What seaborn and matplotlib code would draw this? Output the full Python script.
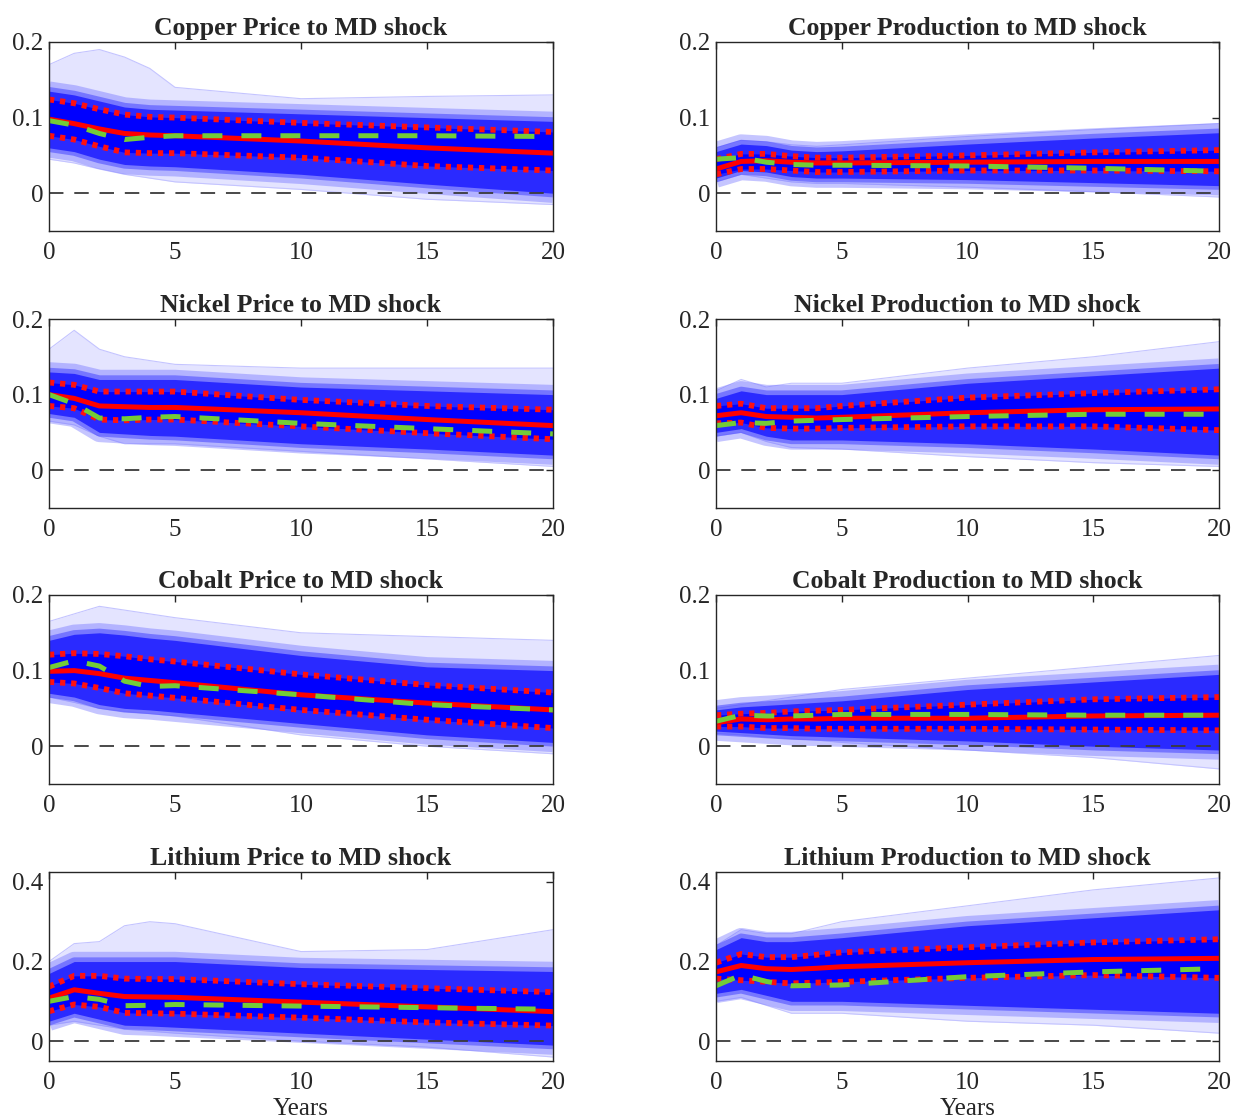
import matplotlib
matplotlib.use("Agg")
import matplotlib.pyplot as plt
import seaborn as sns
import pandas as pd

years = [0, 1, 2, 3, 4, 5, 10, 15, 20]

titles = [
    "Copper Price to MD shock", "Copper Production to MD shock",
    "Nickel Price to MD shock", "Nickel Production to MD shock",
    "Cobalt Price to MD shock", "Cobalt Production to MD shock",
    "Lithium Price to MD shock", "Lithium Production to MD shock",
]

# median response (red solid)
median = [
    [0.098, 0.092, 0.085, 0.079, 0.077, 0.076, 0.069, 0.060, 0.053],
    [0.032, 0.042, 0.043, 0.041, 0.040, 0.040, 0.041, 0.042, 0.042],
    [0.100, 0.095, 0.085, 0.084, 0.083, 0.083, 0.076, 0.067, 0.059],
    [0.072, 0.076, 0.071, 0.070, 0.069, 0.070, 0.076, 0.080, 0.081],
    [0.099, 0.100, 0.096, 0.090, 0.087, 0.084, 0.068, 0.057, 0.048],
    [0.031, 0.036, 0.035, 0.036, 0.036, 0.037, 0.037, 0.040, 0.041],
    [0.108, 0.129, 0.120, 0.112, 0.111, 0.110, 0.098, 0.086, 0.074],
    [0.174, 0.190, 0.182, 0.180, 0.183, 0.187, 0.197, 0.205, 0.208],
]

# upper credible band (red dotted)
upper = [
    [0.124, 0.119, 0.111, 0.104, 0.101, 0.100, 0.093, 0.087, 0.081],
    [0.045, 0.052, 0.052, 0.049, 0.047, 0.047, 0.050, 0.054, 0.057],
    [0.116, 0.113, 0.104, 0.104, 0.104, 0.104, 0.093, 0.085, 0.080],
    [0.085, 0.088, 0.082, 0.082, 0.082, 0.085, 0.096, 0.102, 0.107],
    [0.121, 0.123, 0.122, 0.119, 0.115, 0.112, 0.095, 0.081, 0.071],
    [0.041, 0.043, 0.044, 0.046, 0.047, 0.048, 0.055, 0.062, 0.065],
    [0.137, 0.164, 0.164, 0.157, 0.156, 0.156, 0.143, 0.133, 0.123],
    [0.197, 0.219, 0.211, 0.211, 0.217, 0.223, 0.236, 0.248, 0.256],
]

# lower credible band (red dotted)
lower = [
    [0.076, 0.071, 0.062, 0.054, 0.053, 0.053, 0.047, 0.036, 0.030],
    [0.025, 0.032, 0.032, 0.030, 0.028, 0.028, 0.030, 0.030, 0.029],
    [0.085, 0.082, 0.067, 0.066, 0.067, 0.067, 0.058, 0.049, 0.041],
    [0.062, 0.063, 0.056, 0.055, 0.055, 0.056, 0.058, 0.058, 0.053],
    [0.085, 0.083, 0.077, 0.070, 0.067, 0.064, 0.048, 0.035, 0.024],
    [0.026, 0.026, 0.024, 0.024, 0.023, 0.023, 0.023, 0.022, 0.021],
    [0.075, 0.092, 0.086, 0.071, 0.070, 0.069, 0.059, 0.047, 0.039],
    [0.157, 0.153, 0.149, 0.145, 0.147, 0.149, 0.159, 0.166, 0.159],
]

# point estimate (green dashed)
point = [
    [0.096, 0.090, 0.079, 0.071, 0.074, 0.076, 0.076, 0.076, 0.075],
    [0.045, 0.047, 0.041, 0.038, 0.037, 0.037, 0.036, 0.033, 0.029],
    [0.100, 0.088, 0.069, 0.068, 0.070, 0.071, 0.062, 0.055, 0.048],
    [0.059, 0.063, 0.062, 0.065, 0.066, 0.067, 0.071, 0.074, 0.074],
    [0.104, 0.113, 0.106, 0.086, 0.079, 0.080, 0.068, 0.055, 0.048],
    [0.033, 0.041, 0.040, 0.040, 0.041, 0.042, 0.042, 0.041, 0.041],
    [0.100, 0.112, 0.105, 0.089, 0.090, 0.092, 0.088, 0.084, 0.080],
    [0.139, 0.166, 0.150, 0.139, 0.140, 0.141, 0.162, 0.174, 0.182],
]

# dense part of the draws cloud
core_hi = [
    [0.135, 0.130, 0.122, 0.114, 0.111, 0.110, 0.105, 0.100, 0.095],
    [0.055, 0.065, 0.063, 0.057, 0.055, 0.056, 0.065, 0.073, 0.080],
    [0.130, 0.128, 0.120, 0.120, 0.120, 0.120, 0.110, 0.105, 0.100],
    [0.095, 0.105, 0.100, 0.100, 0.100, 0.100, 0.115, 0.125, 0.135],
    [0.140, 0.148, 0.150, 0.147, 0.143, 0.140, 0.120, 0.105, 0.100],
    [0.048, 0.052, 0.054, 0.056, 0.058, 0.060, 0.075, 0.085, 0.095],
    [0.170, 0.200, 0.200, 0.200, 0.200, 0.200, 0.185, 0.180, 0.175],
    [0.230, 0.260, 0.250, 0.250, 0.255, 0.260, 0.290, 0.310, 0.330],
]
core_lo = [
    [0.060, 0.055, 0.045, 0.038, 0.036, 0.035, 0.025, 0.012, 0.000],
    [0.020, 0.030, 0.028, 0.022, 0.020, 0.020, 0.018, 0.014, 0.010],
    [0.075, 0.070, 0.050, 0.048, 0.046, 0.045, 0.035, 0.028, 0.020],
    [0.050, 0.055, 0.045, 0.040, 0.040, 0.040, 0.035, 0.028, 0.020],
    [0.070, 0.065, 0.055, 0.050, 0.048, 0.045, 0.030, 0.015, 0.005],
    [0.020, 0.018, 0.016, 0.014, 0.013, 0.012, 0.007, 0.000, -0.005],
    [0.050, 0.070, 0.055, 0.040, 0.038, 0.035, 0.020, 0.005, -0.010],
    [0.120, 0.130, 0.115, 0.100, 0.100, 0.100, 0.090, 0.080, 0.070],
]

# outer envelope of the draws cloud
outer_hi = [
    [0.170, 0.185, 0.190, 0.180, 0.165, 0.140, 0.125, 0.128, 0.130],
    [0.060, 0.070, 0.068, 0.064, 0.062, 0.064, 0.075, 0.084, 0.092],
    [0.160, 0.185, 0.160, 0.150, 0.145, 0.140, 0.135, 0.135, 0.135],
    [0.105, 0.120, 0.110, 0.115, 0.115, 0.115, 0.135, 0.150, 0.170],
    [0.165, 0.175, 0.185, 0.180, 0.175, 0.170, 0.150, 0.145, 0.140],
    [0.050, 0.055, 0.060, 0.065, 0.070, 0.075, 0.090, 0.105, 0.120],
    [0.200, 0.245, 0.250, 0.290, 0.300, 0.295, 0.225, 0.230, 0.280],
    [0.240, 0.280, 0.270, 0.270, 0.285, 0.300, 0.340, 0.380, 0.410],
]
outer_lo = [
    [0.045, 0.040, 0.032, 0.025, 0.020, 0.015, 0.005, -0.008, -0.015],
    [0.015, 0.025, 0.020, 0.015, 0.013, 0.013, 0.008, 0.002, -0.005],
    [0.065, 0.060, 0.045, 0.035, 0.035, 0.035, 0.025, 0.015, 0.005],
    [0.045, 0.050, 0.038, 0.030, 0.029, 0.028, 0.018, 0.010, 0.005],
    [0.065, 0.058, 0.050, 0.046, 0.043, 0.040, 0.015, 0.000, -0.010],
    [0.017, 0.015, 0.012, 0.010, 0.008, 0.005, -0.005, -0.015, -0.030],
    [0.040, 0.050, 0.040, 0.030, 0.025, 0.020, 0.000, -0.015, -0.040],
    [0.100, 0.110, 0.090, 0.070, 0.070, 0.070, 0.050, 0.040, 0.020],
]

ylims = [(-0.05, 0.2)] * 6 + [(-0.05, 0.425)] * 2
yticks = [[0, 0.1, 0.2]] * 6 + [[0, 0.2, 0.4]] * 2
ytick_labels = [["0", "0.1", "0.2"]] * 6 + [["0", "0.2", "0.4"]] * 2
xticks = [0, 5, 10, 15, 20]

sns.set_theme(style="white")
plt.rcParams["font.family"] = ["Liberation Serif", "DejaVu Serif"]

fig = plt.figure(figsize=(12.35, 11.2), dpi=100)

col_left = [49 / 1235, 716 / 1235]
col_width = [504 / 1235, 503 / 1235]
row_bottom = [1 - 231 / 1120, 1 - 508 / 1120, 1 - 784 / 1120, 1 - 1061 / 1120]
row_height = 189 / 1120

LW = 3.6
for i, title in enumerate(titles):
    r, c = divmod(i, 2)
    ax = fig.add_axes([col_left[c], row_bottom[r], col_width[c], row_height])

    # cloud of draws: faint outer envelope, soft-edged dense core
    ax.fill_between(years, outer_lo[i], outer_hi[i], color="#e4e4ff", lw=0, zorder=1)
    for edge in (outer_hi[i], outer_lo[i]):
        ax.plot(years, edge, color="#c4c4ff", lw=0.8, zorder=1)
    for edge in (core_hi[i], core_lo[i]):
        ax.plot(years, edge, color="#5a5aff", lw=14, alpha=0.35, zorder=1.5,
                solid_capstyle="butt")
        ax.plot(years, edge, color="#3a3aff", lw=6, alpha=0.5, zorder=1.6,
                solid_capstyle="butt")
    ax.fill_between(years, core_lo[i], core_hi[i], color="#2a2aff", lw=0, zorder=2)
    ax.fill_between(years, lower[i], upper[i], color="#0000ff", lw=0, zorder=2)

    ax.axhline(0, color="#3a3a3a", lw=1.3, ls=(0, (8, 6)), zorder=3)

    df = pd.DataFrame({"year": years, "median": median[i], "upper": upper[i],
                       "lower": lower[i], "point": point[i]})
    sns.lineplot(data=df, x="year", y="upper", ax=ax, color="#ff1010", lw=4.2,
                 linestyle=(0, (0.9, 1.0)), zorder=4)
    sns.lineplot(data=df, x="year", y="lower", ax=ax, color="#ff1010", lw=4.2,
                 linestyle=(0, (0.9, 1.0)), zorder=4)
    sns.lineplot(data=df, x="year", y="median", ax=ax, color="#ff0000", lw=LW, zorder=5)
    sns.lineplot(data=df, x="year", y="point", ax=ax, color="#74cc38", lw=LW,
                 linestyle=(0, (4, 3.8)), zorder=6)

    ax.set_xlim(0, 20)
    ax.set_ylim(*ylims[i])
    ax.set_xticks(xticks)
    ax.set_xticklabels([str(t) for t in xticks])
    ax.set_yticks(yticks[i])
    ax.set_yticklabels(ytick_labels[i])
    ax.tick_params(direction="in", length=5, width=1, color="#262626",
                   top=True, right=True, labelsize=18, labelcolor="#262626")
    ax.tick_params(axis="x", pad=8)
    ax.tick_params(axis="y", pad=4)
    for s in ax.spines.values():
        s.set_color("#262626")
        s.set_linewidth(1.0)
        s.set_zorder(7)
    ax.set_title(title, fontsize=18.5, fontweight="bold", pad=5)
    ax.set_ylabel("")
    ax.set_xlabel("Years" if r == 3 else "", fontsize=18, color="#262626", labelpad=3)

fig.savefig("out.png", dpi=100)
